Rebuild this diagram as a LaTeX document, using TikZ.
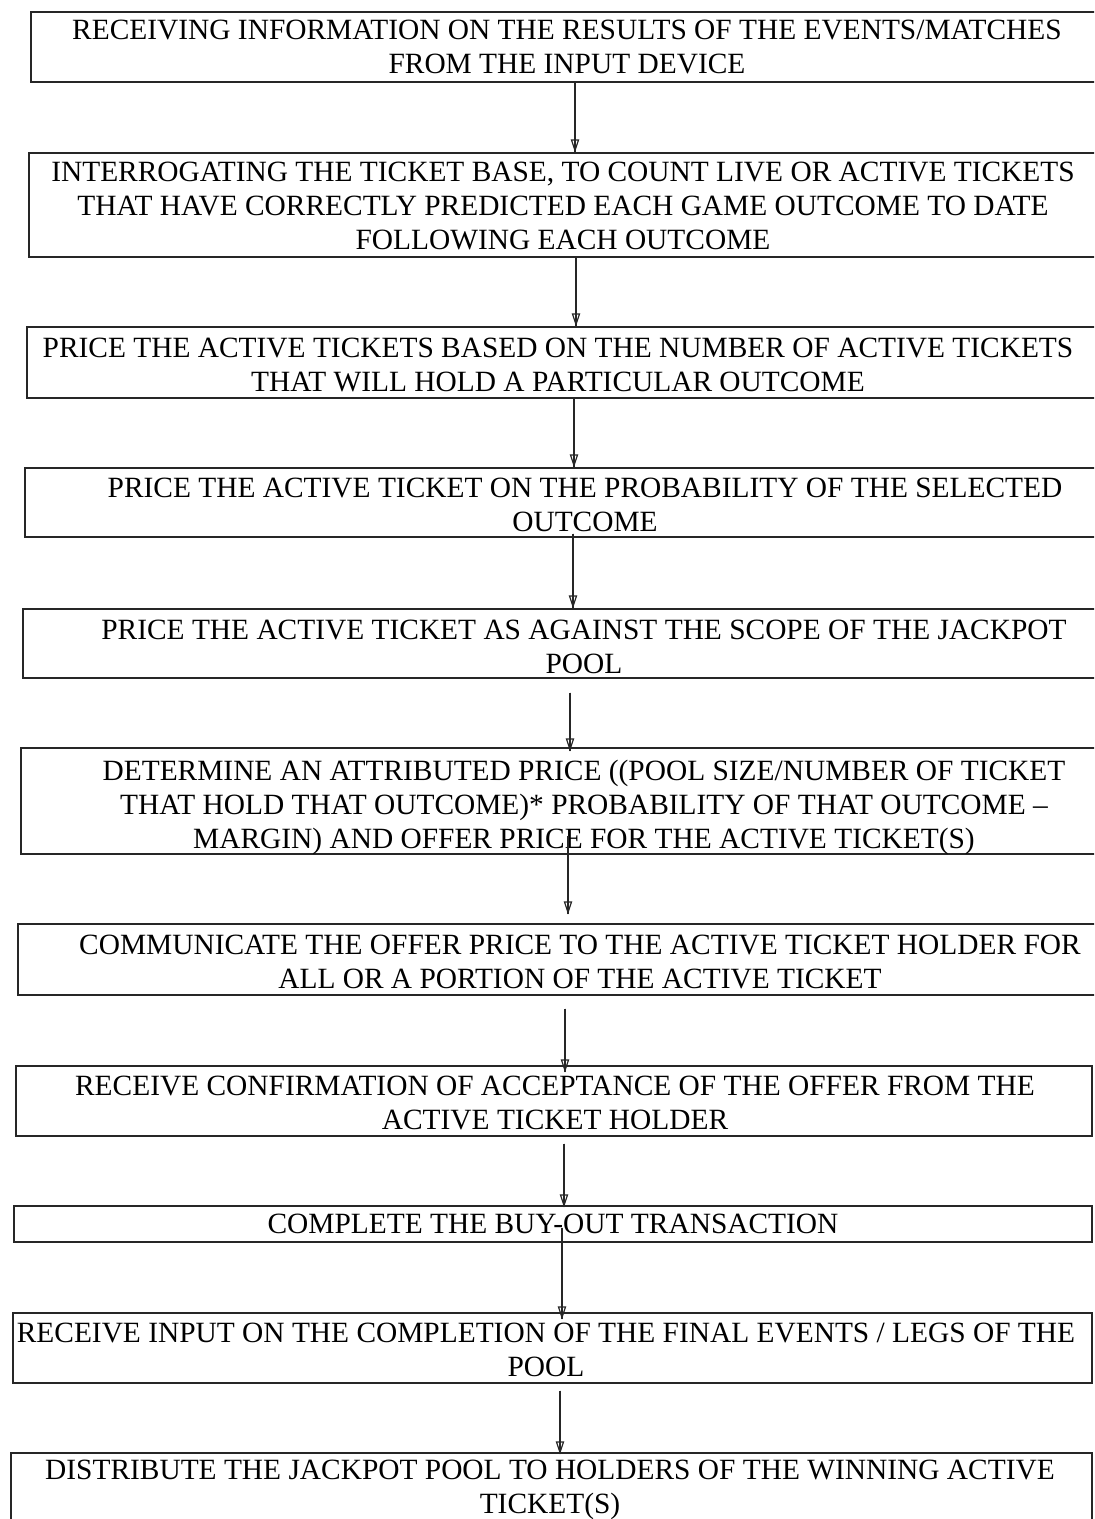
\documentclass[tikz,border=0pt]{standalone}
\usepackage{fontspec}
\setmainfont{Liberation Serif}
\usetikzlibrary{arrows.meta,calc}
\begin{document}
\begin{tikzpicture}[x=0.5pt,y=-0.5pt,
  box/.style={draw=black!85,line width=0.65pt,rectangle,inner sep=0pt},
  txt/.style={align=center,inner sep=0pt,font=\fontsize{14.7}{17}\selectfont},
  arr/.style={draw=black!85,line width=0.6pt,-{Triangle[open,length=6.5pt,width=4.2pt]},
    postaction={draw,-,line width=0.6pt}}]
\useasboundingbox (0,0) rectangle (1094,1519);
\clip (0,0) rectangle (1094,1519);
\fill[white] (0,0) rectangle (1094,1519);
% boxes (geometric)
\node[box,minimum width=1067*0.5pt,minimum height=70*0.5pt]  (b1)  at (564.5,47) {};
\node[box,minimum width=1069*0.5pt,minimum height=104*0.5pt] (b2)  at (563.5,205) {};
\node[box,minimum width=1071*0.5pt,minimum height=71*0.5pt]  (b3)  at (562.5,362.5) {};
\node[box,minimum width=1073*0.5pt,minimum height=69*0.5pt]  (b4)  at (561.5,502.5) {};
\node[box,minimum width=1075*0.5pt,minimum height=69*0.5pt]  (b5)  at (560.5,643.5) {};
\node[box,minimum width=1077*0.5pt,minimum height=106*0.5pt] (b6)  at (559.5,801) {};
\node[box,minimum width=1080*0.5pt,minimum height=71*0.5pt]  (b7)  at (558,959.5) {};
\node[box,minimum width=1076*0.5pt,minimum height=70*0.5pt]  (b8)  at (554,1101) {};
\node[box,minimum width=1078*0.5pt,minimum height=36*0.5pt]  (b9)  at (553,1224) {};
\node[box,minimum width=1079*0.5pt,minimum height=70*0.5pt]  (b10) at (552.5,1348) {};
\node[box,minimum width=1081*0.5pt,minimum height=77*0.5pt]  (b11) at (551.5,1491.5) {};
% texts
\node[txt] (t1) at (567,47) {RECEIVING INFORMATION ON THE RESULTS OF THE EVENTS/MATCHES\\FROM THE INPUT DEVICE};
\node[txt] (t2) at (563,206) {INTERROGATING THE TICKET BASE, TO COUNT LIVE OR ACTIVE TICKETS\\THAT HAVE CORRECTLY PREDICTED EACH GAME OUTCOME TO DATE\\FOLLOWING EACH OUTCOME};
\node[txt] (t3) at (558,365) {PRICE THE ACTIVE TICKETS BASED ON THE NUMBER OF ACTIVE TICKETS\\THAT WILL HOLD A PARTICULAR OUTCOME};
\node[txt] (t4) at (585,505) {PRICE THE ACTIVE TICKET ON THE PROBABILITY OF THE SELECTED\\OUTCOME};
\node[txt] (t5) at (584,647) {PRICE THE ACTIVE TICKET AS AGAINST THE SCOPE OF THE JACKPOT\\POOL};
\node[txt] (t6) at (584,807) {DETERMINE AN ATTRIBUTED PRICE ((POOL SIZE/NUMBER OF TICKET\\THAT HOLD THAT OUTCOME)* PROBABILITY OF THAT OUTCOME –\\MARGIN) AND OFFER PRICE FOR THE ACTIVE TICKET(S)};
\node[txt] (t7) at (580,962) {COMMUNICATE THE OFFER PRICE TO THE ACTIVE TICKET HOLDER FOR\\ALL OR A PORTION OF THE ACTIVE TICKET};
\node[txt] (t8) at (555,1103) {RECEIVE CONFIRMATION OF ACCEPTANCE OF THE OFFER FROM THE\\ACTIVE TICKET HOLDER};
\node[txt] (t9) at (553,1224) {COMPLETE THE BUY-OUT TRANSACTION};
\node[txt] (t10) at (546,1350) {RECEIVE INPUT ON THE COMPLETION OF THE FINAL EVENTS / LEGS OF THE\\POOL};
\node[txt] (t11) at (550,1490) {DISTRIBUTE THE JACKPOT POOL TO HOLDERS OF THE WINNING ACTIVE\\TICKET(S)};
% connectors
\draw[arr] ($(b1.south)+(10.5,0)$) -- ($(b2.north)+(11.5,0)$);
\draw[arr] ($(b2.south)+(12.5,0)$) -- ($(b3.north)+(13.5,0)$);
\draw[arr] ($(b3.south)+(11.5,0)$) -- ($(b4.north)+(12.5,0)$);
\draw[arr] ($(b4.south)+(11.5,-4)$) -- ($(b5.north)+(12.5,0)$);
\draw[arr] ($(b5.south)+(9.5,14)$) -- ($(b6.north)+(10.5,4)$);
\draw[arr] ($(b6.south)+(8.5,-19)$) -- ($(b7.north)+(10,-9)$);
\draw[arr] ($(b7.south)+(7,13)$) -- ($(b8.north)+(11,7)$);
\draw[arr] ($(b8.south)+(10,7)$) -- ($(b9.north)+(11,2)$);
\draw[arr] ($(b9.south)+(9,-15)$) -- ($(b10.north)+(9.5,7)$);
\draw[arr] ($(b10.south)+(7.5,7)$) -- ($(b11.north)+(8.5,2)$);
\end{tikzpicture}
\end{document}
